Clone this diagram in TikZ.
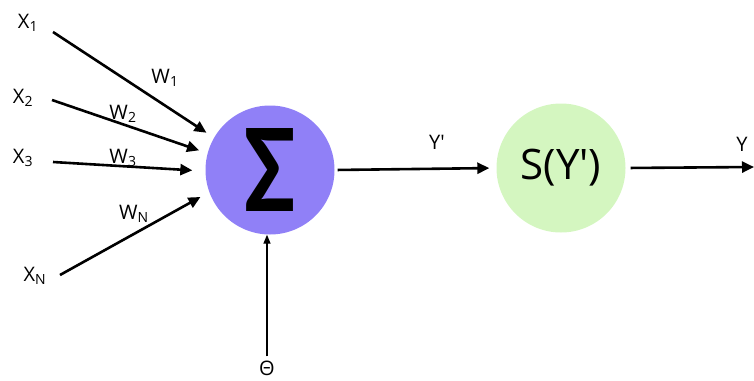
\documentclass[tikz,border=0pt]{standalone}
\usepackage{fontspec}
\setmainfont{Open Sans}
\newfontfamily\sigmafont{Carlito}
\usetikzlibrary{arrows.meta}
\definecolor{sumfill}{RGB}{144,128,247}
\definecolor{actfill}{RGB}{212,246,192}

\begin{document}
\begin{tikzpicture}[x=1pt, y=-1pt,
  lbl/.style={font=\fontsize{20}{22}\selectfont, inner sep=0pt},
  unit/.style={circle, minimum size=129pt, inner sep=0pt},
  arr/.style={-{Triangle[length=12pt, width=11pt]}, line width=2.6pt},
  thin arr/.style={-{Triangle[length=9pt, width=7pt]}, line width=1.4pt}]
  \useasboundingbox (0,0) rectangle (754,380);
  \node[unit, fill=sumfill] (sum) at (270,170) {\sigmafont\fontsize{128}{128}\selectfont\bfseries\addfontfeatures{FakeStretch=0.85}Σ};
  \node[unit, fill=actfill] (act) at (561,168) {\fontsize{42}{44}\selectfont S(Y\textquotesingle)};
  % inputs
  \node[lbl] (x1) at (28,23) {X\textsubscript{1}};
  \node[lbl] (x2) at (23,98) {X\textsubscript{2}};
  \node[lbl] (x3) at (23,158) {X\textsubscript{3}};
  \node[lbl] (xn) at (35,276) {X\textsubscript{N}};
  \coordinate (s1) at (53,32);
  \coordinate (s2) at (52,100);
  \coordinate (s3) at (53,162);
  \coordinate (sn) at (60,275);
  \draw[arr, shorten >=9pt] (s1) -- (sum.150);
  \draw[arr, shorten >=9pt] (s2) -- (sum.165);
  \draw[arr, shorten >=13pt] (s3) -- (sum.181);
  \draw[arr, shorten >=10pt] (sn) -- (sum.200);
  \node[lbl] (w1) at (165,78) {W\textsubscript{1}};
  \node[lbl] (w2) at (123,114) {W\textsubscript{2}};
  \node[lbl] (w3) at (123,158) {W\textsubscript{3}};
  \node[lbl] (wn) at (134,214) {W\textsubscript{N}};
  % bias
  \node[lbl] (theta) at (267,368) {Θ};
  \draw[thin arr] (theta.north) ++(0,-4) coordinate (tb) -- (tb |- sum.south) coordinate (tt);
  % output
  \draw[arr, shorten <=3pt, shorten >=7pt] (sum.east) -- (act.west);
  \node[lbl] (yp) at (437,142) {Y\textquotesingle};
  \coordinate (out) at (754,167);
  \draw[arr, shorten <=5pt] (act.east) -- (out);
  \node[lbl] (y) at (742,144) {Y};
\end{tikzpicture}
\end{document}
